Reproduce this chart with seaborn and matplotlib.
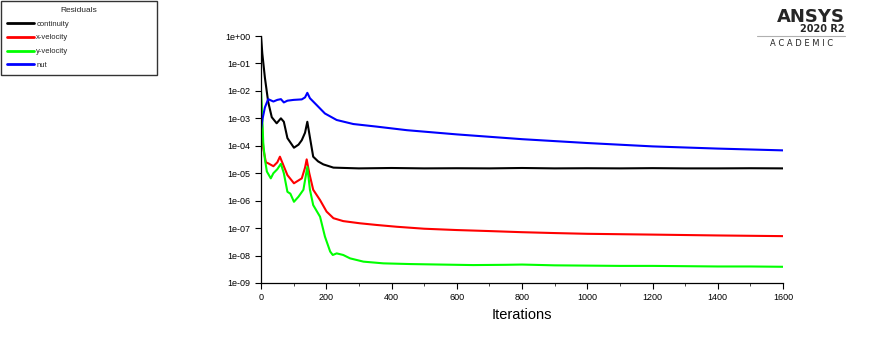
import numpy as np
import pandas as pd
import seaborn as sns
import matplotlib
matplotlib.use("Agg")
import matplotlib.pyplot as plt
from matplotlib.ticker import LogLocator, FuncFormatter, MultipleLocator

# residual history
cont_it = [0, 4, 12, 22, 33, 48, 61, 70, 81, 101, 115, 125, 135, 142, 150, 160, 175, 191, 222,
           260, 300, 400, 500, 600, 700, 800, 900, 1000, 1100, 1200, 1300, 1400, 1500, 1600]
cont_val = [1.0, 0.23, 0.03, 0.004, 1.1e-3, 6.6e-4, 1.0e-3, 7.5e-4, 1.9e-4, 8.5e-5, 1.1e-4, 1.6e-4,
            3.0e-4, 7.5e-4, 2.0e-4, 4.0e-5, 2.7e-5, 2.1e-5, 1.6e-5, 1.55e-5, 1.5e-5, 1.55e-5,
            1.5e-5, 1.52e-5, 1.5e-5, 1.55e-5, 1.5e-5, 1.52e-5, 1.5e-5, 1.53e-5, 1.5e-5, 1.5e-5,
            1.52e-5, 1.5e-5]

xvel_it = [0, 3, 7, 15, 22, 38, 50, 58, 65, 81, 101, 125, 135, 140, 148, 160, 181, 201, 222,
           252, 303, 355, 416, 500, 600, 700, 800, 900, 1000, 1200, 1400, 1600]
xvel_val = [5.0e-3, 6.3e-4, 7.9e-5, 2.5e-5, 2.3e-5, 1.8e-5, 2.5e-5, 4.0e-5, 2.5e-5, 8.5e-6,
            4.3e-6, 6.5e-6, 1.6e-5, 3.2e-5, 1.0e-5, 2.5e-6, 1.05e-6, 4.0e-7, 2.3e-7, 1.8e-7,
            1.5e-7, 1.3e-7, 1.12e-7, 9.5e-8, 8.5e-8, 7.8e-8, 7.1e-8, 6.6e-8, 6.2e-8, 5.8e-8,
            5.4e-8, 5.1e-8]

yvel_it = [0, 4, 7, 12, 18, 30, 38, 50, 61, 70, 81, 90, 101, 115, 130, 142, 150, 160, 181, 196,
           212, 220, 232, 252, 273, 314, 375, 457, 550, 650, 750, 800, 900, 1000, 1100, 1200,
           1300, 1400, 1500, 1600]
yvel_val = [1.07e-2, 1.0e-3, 1.2e-4, 3.2e-5, 1.15e-5, 6.5e-6, 1.0e-5, 1.4e-5, 2.2e-5, 1.0e-5,
            2.1e-6, 1.8e-6, 9.1e-7, 1.4e-6, 2.5e-6, 1.7e-5, 2.5e-6, 6.9e-7, 2.6e-7, 4.9e-8,
            1.4e-8, 1.05e-8, 1.2e-8, 1.05e-8, 7.9e-9, 6.0e-9, 5.2e-9, 4.9e-9, 4.7e-9, 4.5e-9,
            4.6e-9, 4.7e-9, 4.4e-9, 4.3e-9, 4.2e-9, 4.2e-9, 4.1e-9, 4.0e-9, 4.0e-9, 3.9e-9]

nut_it = [0, 5, 12, 22, 38, 50, 61, 70, 81, 100, 125, 135, 142, 150, 170, 196, 232, 283, 354,
          447, 600, 800, 1000, 1200, 1400, 1600]
nut_val = [4.0e-4, 1.0e-3, 2.5e-3, 5.0e-3, 4.1e-3, 4.7e-3, 5.0e-3, 3.8e-3, 4.4e-3, 4.7e-3,
           4.9e-3, 5.8e-3, 8.5e-3, 5.4e-3, 3.1e-3, 1.5e-3, 8.7e-4, 6.2e-4, 5.0e-4, 3.7e-4,
           2.6e-4, 1.74e-4, 1.26e-4, 9.5e-5, 7.9e-5, 6.8e-5]

series = ["continuity", "x-velocity", "y-velocity", "nut"]
colors = ["#000000", "#ff0000", "#00ff00", "#0000ff"]

df = pd.concat([
    pd.DataFrame({"it": cont_it, "res": cont_val, "name": "continuity"}),
    pd.DataFrame({"it": xvel_it, "res": xvel_val, "name": "x-velocity"}),
    pd.DataFrame({"it": yvel_it, "res": yvel_val, "name": "y-velocity"}),
    pd.DataFrame({"it": nut_it, "res": nut_val, "name": "nut"}),
], ignore_index=True)

sns.set_style("ticks")
plt.rcParams["font.family"] = ["Liberation Sans", "DejaVu Sans"]

W, H = 871, 354
fig = plt.figure(figsize=(W / 100, H / 100), dpi=100)
ax = fig.add_axes([261 / W, 1 - 283 / H, 522 / W, 247 / H])

sns.lineplot(data=df, x="it", y="res", hue="name", hue_order=series,
             palette=colors, estimator=None, sort=False, linewidth=1.5, ax=ax)

ax.set_yscale("log")
ax.set_xlim(0, 1600)
ax.set_ylim(1e-9, 1.0)
ax.yaxis.set_major_locator(LogLocator(base=10, numticks=20))
ax.yaxis.set_minor_locator(plt.NullLocator())
ax.yaxis.set_major_formatter(FuncFormatter(lambda v, p: f"{v:.0e}"))
ax.xaxis.set_major_locator(MultipleLocator(200))
ax.xaxis.set_minor_locator(MultipleLocator(100))
ax.tick_params(axis="both", which="major", labelsize=6.5, length=4, width=0.8,
               color="black", labelcolor="black")
ax.tick_params(axis="x", which="minor", length=2, width=0.6)
sns.despine(ax=ax)
for s in ["left", "bottom"]:
    ax.spines[s].set_color("black")
    ax.spines[s].set_linewidth(0.9)
ax.set_xlabel("Iterations", fontsize=10.5, color="black")
ax.set_ylabel("")

handles, labels = ax.get_legend_handles_labels()
ax.get_legend().remove()
leg = fig.legend(handles, labels, title="Residuals", loc="upper left",
                 bbox_to_anchor=(1 / W, 1 - 73 / H, 156 / W, 72 / H),
                 bbox_transform=fig.transFigure, mode="expand",
                 fontsize=5.5, title_fontsize=6, frameon=True, fancybox=False,
                 handlelength=3.6, handletextpad=0.25, labelspacing=0.85,
                 borderaxespad=0, borderpad=0.75)
leg.get_frame().set_edgecolor("black")
leg.get_frame().set_linewidth(1.0)
for h in leg.get_lines():
    h.set_linewidth(2)

# ANSYS watermark
fig.text(845 / W, 1 - 21.5 / H, "ANSYS", ha="right", va="baseline", fontsize=13,
         fontweight="bold", family="DejaVu Sans")
fig.text(845 / W, 1 - 32.5 / H, "2020 R2", ha="right", va="baseline", fontsize=7,
         fontweight="bold", family="DejaVu Sans")
fig.add_artist(plt.Line2D([757 / W, 845 / W], [1 - 36 / H, 1 - 36 / H], color="#b0b0b0",
                          lw=0.8, transform=fig.transFigure))
fig.text(802 / W, 1 - 44 / H, "A C A D E M I C", ha="center", va="center", fontsize=6,
         family="DejaVu Sans")

fig.savefig("out.png", dpi=100)
